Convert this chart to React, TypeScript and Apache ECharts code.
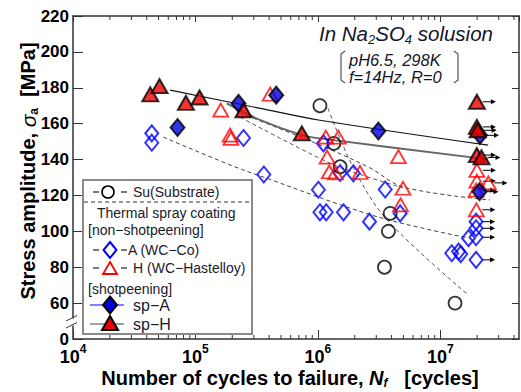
import React, { useEffect, useRef } from "react";
import * as echarts from "echarts";

// ---------- data (N cycles, stress amplitude MPa) ----------
const SU_SUBSTRATE = [[1.04e6, 170], [1.35e6, 149], [1.52e6, 136], [3.9e6, 110], [3.77e6, 100], [3.5e6, 80], [1.32e7, 60]];
const A_WC_CO = [[4.4e4, 154.6], [4.4e4, 149.4], [2.47e5, 152], [3.62e5, 131.7], [1.01e6, 123.2], [1.11e6, 149], [1.04e6, 110.6], [1.17e6, 110.6], [1.52e6, 132.5], [1.62e6, 110.6], [1.95e6, 132.3], [2.64e6, 105.4], [3.55e6, 123.3], [4.7e6, 110], [1.24e7, 87.8], [1.41e7, 88.7], [1.47e7, 87.3], [1.7e7, 96.2], [1.96e7, 105.4], [1.96e7, 101.7], [1.96e7, 96.7], [1.96e7, 84.1]];
const H_WC_HASTELLOY = [[1.61e5, 167.5], [1.92e5, 153.6], [1.95e5, 151.8], [4.08e5, 176.4], [1.16e6, 152.5], [1.47e6, 152.5], [1.19e6, 141.4], [1.24e6, 133.2], [1.39e6, 132.5], [2.21e6, 132.8], [4.55e6, 141.6], [4.96e6, 124], [4.74e6, 114.7], [1.99e7, 134], [1.99e7, 128], [2.47e7, 127], [1.96e7, 123], [1.97e7, 112]];
const SP_A = [[7.14e4, 157.9], [2.25e5, 171.3], [4.57e5, 175.9], [3.12e6, 155.9], [2.11e7, 153.5], [2.09e7, 122.1]];
const SP_H = [[4.28e4, 176.3], [5.09e4, 180.9], [8.36e4, 171.6], [1.08e5, 174.6], [2.47e5, 167.5], [7.4e5, 154.6], [1.99e7, 172.2], [1.99e7, 158.2], [2.02e7, 156.3], [1.99e7, 142.5], [2.17e7, 141.2]];

// fitted S-N curves
const SU_FIT = [[1.21e6, 168.6], [1.94e6, 135.8], [3.68e6, 106.4], [1.69e7, 64.6]];
const A_FIT = [[5.46e4, 152.5], [1.92e5, 137], [3.84e5, 129.5], [3.03e6, 108.2], [1.69e7, 96.3]];
const H_FIT = [[2.32e5, 165.9], [1.04e6, 148.1], [2.67e6, 135.3], [4.97e6, 124.7], [2.55e7, 117.5]];
const H_FIT_2 = [[2.32e5, 163.6], [1.26e6, 137.9], [2.43e6, 130.8], [4.97e6, 124.2]];
const SP_UPPER_FIT = [[6.22e4, 178.7], [3.4e5, 168.5], [1.04e6, 161.9], [2.46e7, 148]];
const SP_LOWER_FIT = [[1.8e5, 171.3], [3.4e5, 162], [7.4e5, 153.6], [1.04e6, 151.8], [2.46e7, 140.1]];

const RUNOUT_MIN_CYCLES = 1.9e7;

// axes
const X_MIN_LOG = 4;
const X_MAX_LOG = 7.643;
const Y_MIN = 40; // drawn as "0" (broken axis)
const Y_MAX = 220;
const Y_STEP = 20;
const DECADES = [1e4, 1e5, 1e6, 1e7];
const MINOR_MULTIPLIERS = [2, 3, 4, 5, 6, 7, 8, 9];

const FONT = '"Liberation Sans", Arial, Helvetica, sans-serif';
const lg = (v: number) => Math.log10(v);
const toXY = (arr: number[][]) => arr.map(([n, s]) => [lg(n), s]);

export default function App() {
  const ref = useRef<HTMLDivElement>(null);

  useEffect(() => {
    if (!ref.current) return;
    const chart = echarts.init(ref.current, null, { renderer: "svg" });

    const minorTicks: number[][] = [];
    DECADES.forEach((d) => MINOR_MULTIPLIERS.forEach((m) => {
      const v = lg(d * m);
      if (v < X_MAX_LOG) minorTicks.push([v, Y_MIN]);
    }));

    const runouts = [...A_WC_CO, ...H_WC_HASTELLOY, ...SP_A, ...SP_H]
      .filter(([n]) => n >= RUNOUT_MIN_CYCLES)
      .map(([n, s]) => [lg(n), s]);

    const axisLineStyle = { color: "#333", width: 1.5 };

    const fitLine = (data: number[][], color: string, width: number, type: any, z = 2) => ({
      type: "line",
      data: toXY(data),
      symbol: "none",
      smooth: 0.35,
      silent: true,
      lineStyle: { color, width, type },
      z,
    });

    const txt = (text: string, x: number, y: number, size = 14, extra: any = {}) => ({
      type: "text",
      x,
      y,
      z: 60,
      style: {
        text,
        fill: "#1a1a2a",
        fontSize: size,
        fontFamily: FONT,
        align: "left",
        verticalAlign: "middle",
        lineHeight: size,
        ...extra,
      },
    });

    const diamondPts = (cx: number, cy: number, hw: number, hh: number) => [[cx, cy - hh], [cx + hw, cy], [cx, cy + hh], [cx - hw, cy]];
    const triPts = (cx: number, cy: number, hw: number, hh: number) => [[cx, cy - hh], [cx + hw, cy + hh], [cx - hw, cy + hh]];

    const legendRowDashes = (y: number) => [
      { type: "line", z: 60, shape: { x1: 93, y1: y, x2: 99, y2: y }, style: { stroke: "#222", lineWidth: 1.2 } },
      { type: "line", z: 60, shape: { x1: 121, y1: y, x2: 127, y2: y }, style: { stroke: "#222", lineWidth: 1.2 } },
    ];

    const option: any = {
      animation: false,
      grid: { left: 73, right: 2, top: 16, bottom: 53, containLabel: false },
      xAxis: [
        {
          type: "value",
          min: X_MIN_LOG,
          max: X_MAX_LOG,
          interval: 1,
          position: "bottom",
          axisLine: { show: true, lineStyle: axisLineStyle },
          axisTick: { inside: true, length: 9, lineStyle: { color: "#333", width: 1 } },
          splitLine: { show: false },
          axisLabel: {
            margin: 4,
            showMinLabel: true,
            showMaxLabel: false,
            hideOverlap: false,
            formatter: (v: number) => (Math.abs(v - Math.round(v)) < 1e-6 ? `{b|10}{s|${Math.round(v)}}` : ""),
            rich: {
              b: { fontSize: 18, fontWeight: "bold", fontFamily: FONT, color: "#000", lineHeight: 28 },
              s: { fontSize: 12, fontWeight: "bold", fontFamily: FONT, color: "#000", verticalAlign: "top" },
            },
          },
        },
        {
          type: "value",
          min: X_MIN_LOG,
          max: X_MAX_LOG,
          interval: 1,
          position: "top",
          axisLine: { show: true, lineStyle: axisLineStyle },
          axisTick: { inside: true, length: 6, lineStyle: { color: "#333", width: 1 } },
          axisLabel: { show: false },
          splitLine: { show: false },
        },
      ],
      yAxis: [
        {
          type: "value",
          min: Y_MIN,
          max: Y_MAX,
          interval: Y_STEP,
          axisLine: { show: true, lineStyle: axisLineStyle },
          axisTick: { inside: true, length: 10, lineStyle: { color: "#333", width: 1 } },
          splitLine: { show: false },
          axisLabel: {
            margin: 4,
            showMinLabel: true,
            hideOverlap: false,
            color: "#000",
            fontSize: 17,
            fontWeight: "bold",
            fontFamily: FONT,
            formatter: (v: number) => (v === Y_MIN ? "0" : String(v)),
          },
        },
        {
          type: "value",
          min: Y_MIN,
          max: Y_MAX,
          interval: Y_STEP,
          position: "right",
          axisLine: { show: true, lineStyle: axisLineStyle },
          axisTick: { inside: true, length: 7, lineStyle: { color: "#333", width: 1 } },
          axisLabel: { show: false },
          splitLine: { show: false },
        },
      ],
      series: [
        {
          type: "custom",
          coordinateSystem: "cartesian2d",
          silent: true,
          clip: false,
          data: minorTicks,
          z: 1,
          renderItem: (params: any, api: any) => {
            const x = api.value(0);
            const b = api.coord([x, Y_MIN]);
            const t = api.coord([x, Y_MAX]);
            return {
              type: "group",
              children: [
                { type: "line", shape: { x1: b[0], y1: b[1], x2: b[0], y2: b[1] - 4 }, style: { stroke: "#333", lineWidth: 1 } },
                { type: "line", shape: { x1: t[0], y1: t[1], x2: t[0], y2: t[1] + 4 }, style: { stroke: "#333", lineWidth: 1 } },
              ],
            };
          },
        },
        fitLine(SU_FIT, "#555", 1, [4, 3]),
        fitLine(A_FIT, "#444", 1, [4, 3]),
        fitLine(H_FIT, "#444", 1, [4, 3]),
        fitLine(H_FIT_2, "#555", 1, [4, 3]),
        fitLine(SP_UPPER_FIT, "#111", 1.2, "solid"),
        fitLine(SP_LOWER_FIT, "#666", 1.8, "solid"),
        {
          type: "custom",
          coordinateSystem: "cartesian2d",
          silent: true,
          clip: false,
          data: runouts,
          z: 3,
          renderItem: (params: any, api: any) => {
            const p = api.coord([api.value(0), api.value(1)]);
            const x0 = p[0] + 6;
            const x1 = p[0] + 19;
            return {
              type: "group",
              children: [
                { type: "line", shape: { x1: x0, y1: p[1], x2: x1 - 3, y2: p[1] }, style: { stroke: "#000", lineWidth: 1 } },
                { type: "polygon", shape: { points: [[x1, p[1]], [x1 - 5, p[1] - 2.5], [x1 - 5, p[1] + 2.5]] }, style: { fill: "#000" } },
              ],
            };
          },
        },
        {
          type: "scatter",
          name: "Su(Substrate)",
          data: toXY(SU_SUBSTRATE),
          symbol: "circle",
          symbolSize: 13,
          silent: true,
          z: 4,
          itemStyle: { color: "rgba(255,255,255,0)", borderColor: "#000", borderWidth: 1.8 },
        },
        {
          type: "scatter",
          name: "A (WC−Co)",
          data: toXY(A_WC_CO),
          symbol: "diamond",
          symbolSize: [13, 16],
          silent: true,
          z: 5,
          itemStyle: { color: "rgba(255,255,255,0)", borderColor: "#0000ff", borderWidth: 2 },
        },
        {
          type: "scatter",
          name: "H (WC−Hastelloy)",
          data: toXY(H_WC_HASTELLOY),
          symbol: "triangle",
          symbolSize: [15, 13],
          silent: true,
          z: 6,
          itemStyle: { color: "rgba(255,255,255,0)", borderColor: "#ff0000", borderWidth: 1.8 },
        },
        {
          type: "scatter",
          name: "sp−A",
          data: toXY(SP_A),
          symbol: "diamond",
          symbolSize: [14, 17],
          silent: true,
          z: 7,
          itemStyle: { color: "#0000e0", borderColor: "#000", borderWidth: 2 },
        },
        {
          type: "scatter",
          name: "sp−H",
          data: toXY(SP_H),
          symbol: "triangle",
          symbolSize: [16, 14],
          silent: true,
          z: 8,
          itemStyle: { color: "#ee0000", borderColor: "#000", borderWidth: 2 },
        },
      ],
      graphic: [
        // axis break on y axis
        { type: "rect", z: 100, shape: { x: 69, y: 318.5, width: 8, height: 7 }, style: { fill: "#fff" } },
        { type: "line", z: 101, shape: { x1: 66, y1: 321, x2: 77, y2: 315.5 }, style: { stroke: "#333", lineWidth: 1 } },
        { type: "line", z: 101, shape: { x1: 66, y1: 328, x2: 77, y2: 322.5 }, style: { stroke: "#333", lineWidth: 1 } },
        // axis titles
        {
          type: "text",
          x: 28,
          y: 171,
          rotation: Math.PI / 2,
          z: 60,
          style: {
            text: "{b|Stress amplitude, }{i|σ}{u|a}{b|  [MPa]}",
            align: "center",
            verticalAlign: "middle",
            rich: {
              b: { fontSize: 20, fontWeight: "bold", fontFamily: FONT, fill: "#000", lineHeight: 24 },
              i: { fontSize: 21, fontStyle: "italic", fontFamily: FONT, fill: "#000", lineHeight: 24 },
              u: { fontSize: 12, fontWeight: "bold", fontFamily: FONT, fill: "#000", verticalAlign: "bottom" },
            },
          },
        },
        {
          type: "text",
          x: 290,
          y: 378,
          z: 60,
          style: {
            text: "{b|Number of cycles to failure, }{i|N}{u|f}{b|   [cycles]}",
            align: "center",
            verticalAlign: "middle",
            rich: {
              b: { fontSize: 20, fontWeight: "bold", fontFamily: FONT, fill: "#000", lineHeight: 22 },
              i: { fontSize: 20, fontWeight: "bold", fontStyle: "italic", fontFamily: FONT, fill: "#000", lineHeight: 22 },
              u: { fontSize: 12, fontWeight: "bold", fontStyle: "italic", fontFamily: FONT, fill: "#000", verticalAlign: "bottom" },
            },
          },
        },
        // test condition annotation
        {
          type: "text",
          x: 319,
          y: 33,
          z: 60,
          style: {
            text: "{t|In Na}{s|2}{t|SO}{s|4}{t| solusion}",
            align: "left",
            verticalAlign: "middle",
            rich: {
              t: { fontSize: 20.5, fontStyle: "italic", fontFamily: FONT, fill: "#15152a", lineHeight: 26 },
              s: { fontSize: 13, fontStyle: "italic", fontFamily: FONT, fill: "#15152a", verticalAlign: "bottom" },
            },
          },
        },
        txt("pH6.5, 298K", 349, 60, 16.5, { fontStyle: "italic", fill: "#15152a" }),
        txt("f=14Hz, R=0", 349, 77, 16.5, { fontStyle: "italic", fill: "#15152a" }),
        { type: "polyline", z: 60, shape: { points: [[345, 51], [341, 54], [341, 80], [345, 83]] }, style: { stroke: "#555", lineWidth: 1.2, fill: "none" } },
        { type: "polyline", z: 60, shape: { points: [[454, 51], [458, 54], [458, 80], [454, 83]] }, style: { stroke: "#555", lineWidth: 1.2, fill: "none" } },
        // legend box
        { type: "rect", z: 50, shape: { x: 83, y: 180, width: 169, height: 154 }, style: { fill: "#fff", stroke: "#8a8a8a", lineWidth: 2 } },
        ...legendRowDashes(192),
        { type: "circle", z: 60, shape: { cx: 108, cy: 192, r: 6 }, style: { fill: "none", stroke: "#000", lineWidth: 1.6 } },
        txt("Su(Substrate)", 133, 192, 14),
        { type: "line", z: 60, shape: { x1: 84, y1: 202, x2: 251, y2: 202 }, style: { stroke: "#333", lineWidth: 1, lineDash: [4, 3] } },
        txt("Thermal spray coating", 97, 213, 14),
        txt("[non−shotpeening]", 88, 230, 14),
        ...legendRowDashes(250),
        { type: "polygon", z: 60, shape: { points: diamondPts(110, 250, 6.5, 8) }, style: { fill: "none", stroke: "#0000ff", lineWidth: 2 } },
        txt("A (WC−Co)", 128, 250, 14),
        ...legendRowDashes(268),
        { type: "polygon", z: 60, shape: { points: triPts(110, 268, 7, 6) }, style: { fill: "none", stroke: "#ff0000", lineWidth: 1.8 } },
        txt("H (WC−Hastelloy)", 133, 268, 14),
        txt("[shotpeening]", 88, 289, 14),
        { type: "line", z: 60, shape: { x1: 90, y1: 305, x2: 124, y2: 305 }, style: { stroke: "#0000ff", lineWidth: 1.2 } },
        { type: "polygon", z: 61, shape: { points: diamondPts(110, 305, 7, 8.5) }, style: { fill: "#0000e0", stroke: "#000", lineWidth: 2 } },
        txt("sp−A", 133, 305, 16),
        { type: "line", z: 60, shape: { x1: 90, y1: 324, x2: 124, y2: 324 }, style: { stroke: "#444", lineWidth: 1.2 } },
        { type: "polygon", z: 61, shape: { points: triPts(110, 323, 8, 7) }, style: { fill: "#ee0000", stroke: "#000", lineWidth: 2 } },
        txt("sp−H", 133, 324, 16),
      ],
    };

    chart.setOption(option);
    return () => chart.dispose();
  }, []);

  return (
    <div
      ref={ref}
      style={{ position: "fixed", left: 0, top: 0, width: 521, height: 392, background: "#fff" }}
    />
  );
}
